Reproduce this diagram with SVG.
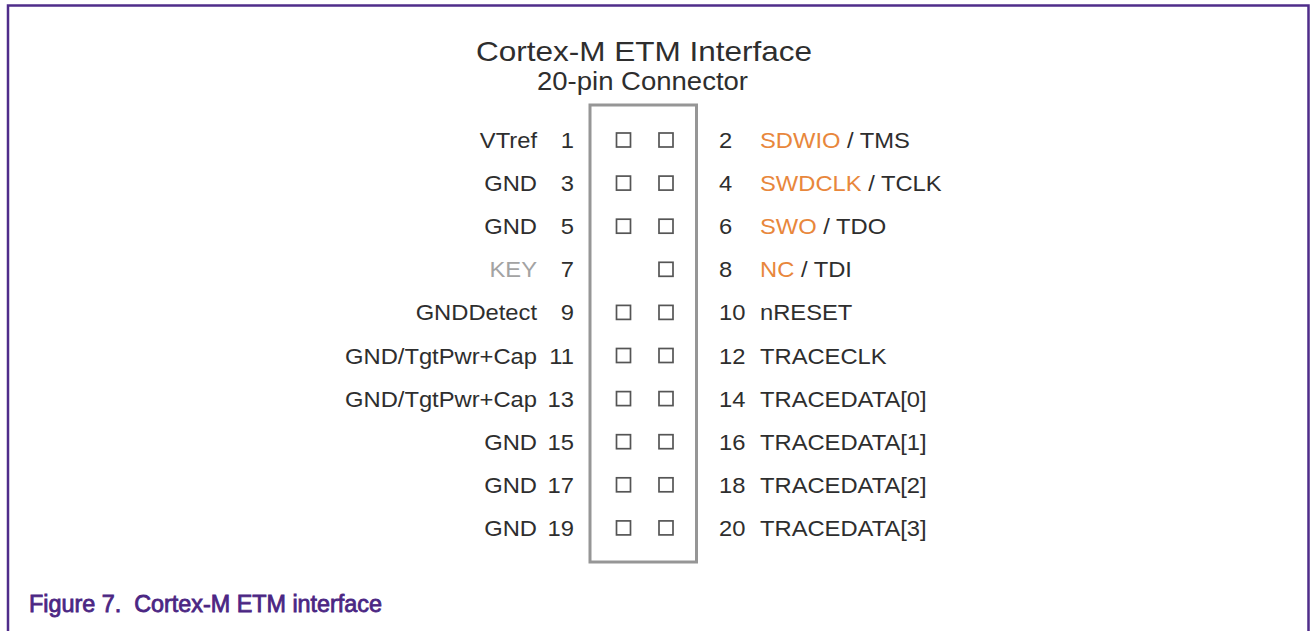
<svg xmlns="http://www.w3.org/2000/svg" width="1310" height="631" viewBox="0 0 1310 631">
<style>
  text { font-family: "Liberation Sans", Arial, Helvetica, sans-serif; fill: #2e2e2e; }
  .lbl { font-size: 22px; }
  .l { text-anchor: end; }
  .o { fill: #e8873c; }
  .key { fill: #a3a3a3; }
  .pin { fill: #ffffff; stroke: #555555; stroke-width: 1.7; }
  .frame { fill: none; stroke: #4f2d8a; stroke-width: 2.5; }
  .box { fill: none; stroke: #969696; stroke-width: 3; }
  .cap { font-size: 23px; fill: #4b2683; stroke: #4b2683; stroke-width: 0.8; }
</style>
<rect width="1310" height="631" fill="#ffffff"/>
<g id="frame">
  <polyline class="frame" points="8,631 8,5.5 1308.5,5.5 1308.5,631"/>
</g>
<g id="title">
  <text x="644" y="61" font-size="28" text-anchor="middle" textLength="336" lengthAdjust="spacingAndGlyphs">Cortex-M ETM Interface</text>
  <text x="642.5" y="90" font-size="25" text-anchor="middle" textLength="211" lengthAdjust="spacingAndGlyphs">20-pin Connector</text>
</g>
<g id="connector">
  <rect class="box" x="590" y="105" width="106.5" height="457"/>
</g>
<g id="connectors"></g>
<g id="row1">
  <text class="lbl l" transform="translate(537,148) scale(1.08,1)">VTref</text>
  <text class="lbl l" transform="translate(574,148) scale(1.08,1)">1</text>
  <rect class="pin" x="616.5" y="133" width="14" height="14"/>
  <rect class="pin" x="659" y="133" width="14" height="14"/>
  <text class="lbl" transform="translate(719,148) scale(1.08,1)">2</text>
  <text class="lbl" transform="translate(760,148) scale(1.08,1)"><tspan class="o">SDWIO</tspan> / TMS</text>
</g>
<g id="row3">
  <text class="lbl l" transform="translate(537,191) scale(1.08,1)">GND</text>
  <text class="lbl l" transform="translate(574,191) scale(1.08,1)">3</text>
  <rect class="pin" x="616.5" y="176.1" width="14" height="14"/>
  <rect class="pin" x="659" y="176.1" width="14" height="14"/>
  <text class="lbl" transform="translate(719,191) scale(1.08,1)">4</text>
  <text class="lbl" transform="translate(760,191) scale(1.08,1)"><tspan class="o">SWDCLK</tspan> / TCLK</text>
</g>
<g id="row5">
  <text class="lbl l" transform="translate(537,234) scale(1.08,1)">GND</text>
  <text class="lbl l" transform="translate(574,234) scale(1.08,1)">5</text>
  <rect class="pin" x="616.5" y="219.2" width="14" height="14"/>
  <rect class="pin" x="659" y="219.2" width="14" height="14"/>
  <text class="lbl" transform="translate(719,234) scale(1.08,1)">6</text>
  <text class="lbl" transform="translate(760,234) scale(1.08,1)"><tspan class="o">SWO</tspan> / TDO</text>
</g>
<g id="row7">
  <text class="lbl l key" transform="translate(537,277) scale(1.08,1)">KEY</text>
  <text class="lbl l" transform="translate(574,277) scale(1.08,1)">7</text>
  <rect class="pin" x="659" y="262.3" width="14" height="14"/>
  <text class="lbl" transform="translate(719,277) scale(1.08,1)">8</text>
  <text class="lbl" transform="translate(760,277) scale(1.08,1)"><tspan class="o">NC</tspan> / TDI</text>
</g>
<g id="row9">
  <text class="lbl l" transform="translate(537,320.4) scale(1.08,1)">GNDDetect</text>
  <text class="lbl l" transform="translate(574,320.4) scale(1.08,1)">9</text>
  <rect class="pin" x="616.5" y="305.4" width="14" height="14"/>
  <rect class="pin" x="659" y="305.4" width="14" height="14"/>
  <text class="lbl" transform="translate(719,320.4) scale(1.08,1)">10</text>
  <text class="lbl" transform="translate(760,320.4) scale(1.08,1)">nRESET</text>
</g>
<g id="row11">
  <text class="lbl l" transform="translate(537,363.5) scale(1.08,1)">GND/TgtPwr+Cap</text>
  <text class="lbl l" transform="translate(574,363.5) scale(1.08,1)">11</text>
  <rect class="pin" x="616.5" y="348.5" width="14" height="14"/>
  <rect class="pin" x="659" y="348.5" width="14" height="14"/>
  <text class="lbl" transform="translate(719,363.5) scale(1.08,1)">12</text>
  <text class="lbl" transform="translate(760,363.5) scale(1.08,1)">TRACECLK</text>
</g>
<g id="row13">
  <text class="lbl l" transform="translate(537,406.6) scale(1.08,1)">GND/TgtPwr+Cap</text>
  <text class="lbl l" transform="translate(574,406.6) scale(1.08,1)">13</text>
  <rect class="pin" x="616.5" y="391.6" width="14" height="14"/>
  <rect class="pin" x="659" y="391.6" width="14" height="14"/>
  <text class="lbl" transform="translate(719,406.6) scale(1.08,1)">14</text>
  <text class="lbl" transform="translate(760,406.6) scale(1.08,1)">TRACEDATA[0]</text>
</g>
<g id="row15">
  <text class="lbl l" transform="translate(537,449.7) scale(1.08,1)">GND</text>
  <text class="lbl l" transform="translate(574,449.7) scale(1.08,1)">15</text>
  <rect class="pin" x="616.5" y="434.7" width="14" height="14"/>
  <rect class="pin" x="659" y="434.7" width="14" height="14"/>
  <text class="lbl" transform="translate(719,449.7) scale(1.08,1)">16</text>
  <text class="lbl" transform="translate(760,449.7) scale(1.08,1)">TRACEDATA[1]</text>
</g>
<g id="row17">
  <text class="lbl l" transform="translate(537,492.8) scale(1.08,1)">GND</text>
  <text class="lbl l" transform="translate(574,492.8) scale(1.08,1)">17</text>
  <rect class="pin" x="616.5" y="477.8" width="14" height="14"/>
  <rect class="pin" x="659" y="477.8" width="14" height="14"/>
  <text class="lbl" transform="translate(719,492.8) scale(1.08,1)">18</text>
  <text class="lbl" transform="translate(760,492.8) scale(1.08,1)">TRACEDATA[2]</text>
</g>
<g id="row19">
  <text class="lbl l" transform="translate(537,535.9) scale(1.08,1)">GND</text>
  <text class="lbl l" transform="translate(574,535.9) scale(1.08,1)">19</text>
  <rect class="pin" x="616.5" y="520.9" width="14" height="14"/>
  <rect class="pin" x="659" y="520.9" width="14" height="14"/>
  <text class="lbl" transform="translate(719,535.9) scale(1.08,1)">20</text>
  <text class="lbl" transform="translate(760,535.9) scale(1.08,1)">TRACEDATA[3]</text>
</g>
<g id="caption">
  <text class="cap" x="29" y="612" textLength="353" lengthAdjust="spacingAndGlyphs">Figure 7.&#160; Cortex-M ETM interface</text>
</g>
</svg>
